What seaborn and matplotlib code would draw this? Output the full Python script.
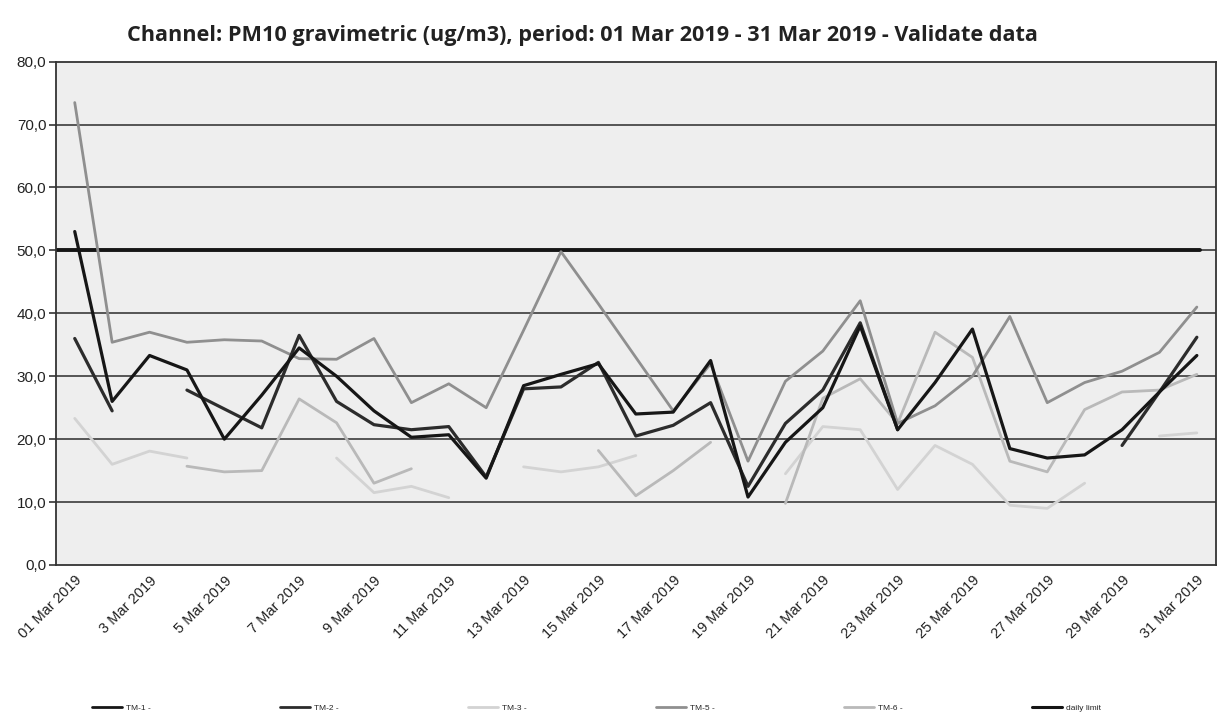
import numpy as np
import pandas as pd
import matplotlib
matplotlib.use("Agg")  # file output only
import matplotlib.pyplot as plt
from matplotlib.lines import Line2D
import seaborn as sns

nan = np.nan

# one value per day, 01..31 March 2019 (gaps = no valid data)
days = list(range(31))
tick_labels = ["01 Mar 2019", "3 Mar 2019", "5 Mar 2019", "7 Mar 2019", "9 Mar 2019",
               "11 Mar 2019", "13 Mar 2019", "15 Mar 2019", "17 Mar 2019", "19 Mar 2019",
               "21 Mar 2019", "23 Mar 2019", "25 Mar 2019", "27 Mar 2019", "29 Mar 2019",
               "31 Mar 2019"]

tm1 = [53.0, 26.0, 33.3, 31.0, 20.0, 27.0, 34.5, 30.0, 24.5, 20.3,
       20.7, 13.8, 28.5, 30.3, 32.0, 24.0, 24.3, 32.5, 10.8, 19.5,
       25.0, 38.0, 21.5, 29.0, 37.5, 18.5, 17.0, 17.5, 21.5, 27.5, 33.3]
tm2 = [36.0, 24.5, nan, 27.8, 24.8, 21.8, 36.5, 26.0, 22.3, 21.5,
       22.0, 14.0, 28.0, 28.3, 32.2, 20.5, 22.2, 25.8, 12.5, 22.5,
       27.8, 38.5, 21.5, nan, nan, nan, nan, nan, 19.0, 27.5, 36.2]
tm3 = [23.3, 16.0, 18.1, 17.0, nan, nan, nan, 17.0, 11.5, 12.5,
       10.7, nan, 15.6, 14.8, 15.6, 17.4, nan, nan, nan, 14.5,
       22.0, 21.5, 12.0, 19.0, 16.0, 9.5, 9.0, 13.0, nan, 20.5, 21.0]
tm5 = [73.5, 35.4, 37.0, 35.4, 35.8, 35.6, 32.8, 32.7, 36.0, 25.8,
       28.8, 25.0, 37.3, 49.8, 41.5, 33.0, 24.5, 32.0, 16.5, 29.2,
       34.0, 42.0, 22.5, 25.3, 30.0, 39.5, 25.8, 29.0, 30.8, 33.8, 41.0]
tm6 = [nan, nan, nan, 15.7, 14.8, 15.0, 26.4, 22.6, 13.0, 15.3,
       nan, nan, nan, nan, 18.2, 11.0, 15.0, 19.5, nan, 9.8,
       26.5, 29.6, 22.5, 37.0, 33.0, 16.5, 14.8, 24.7, 27.5, 27.8, 30.3]
daily_limit = 50.0

series = {"TM-1": tm1, "TM-2": tm2, "TM-3": tm3, "TM-5": tm5, "TM-6": tm6}
legend_labels = ["TM-1 -", "TM-2 -", "TM-3 -", "TM-5 -", "TM-6 -", "daily limit"]

colors = {"TM-1": "#161616", "TM-2": "#2c2c2c", "TM-3": "#d3d3d3",
          "TM-5": "#8f8f8f", "TM-6": "#b9b9b9"}
widths = {"TM-1": 2.3, "TM-2": 2.3, "TM-3": 2.0, "TM-5": 2.0, "TM-6": 2.0}
draw_order = ["TM-3", "TM-6", "TM-5", "TM-2", "TM-1"]
LIMIT_COLOR = "#151515"


def to_long(name, values):
    v = np.array(values, dtype=float)
    df = pd.DataFrame({"day": days, "value": v})
    df["seg"] = np.cumsum(np.isnan(v))  # break the line at missing days
    return df.dropna()


sns.set_theme(style="white")
plt.rcParams["font.family"] = ["Liberation Sans", "DejaVu Sans"]

fig = plt.figure(figsize=(12.18, 7.17), dpi=100)
ax = fig.add_axes([0.046, 0.212, 0.952, 0.702])
ax.set_facecolor("#eeeeee")

for y in range(10, 80, 10):
    ax.axhline(y, color="#3a3a3a", lw=1.2, zorder=1)

for name in draw_order:
    sns.lineplot(data=to_long(name, series[name]), x="day", y="value", units="seg",
                 estimator=None, color=colors[name], lw=widths[name], ax=ax, zorder=3)

ax.axhline(daily_limit, xmax=0.987, color=LIMIT_COLOR, lw=2.8, zorder=2)

ax.set_xlim(-0.5, 30.5)
ax.set_ylim(0, 80)
ax.set_xlabel("")
ax.set_ylabel("")

ax.set_yticks(range(0, 81, 10))
ax.set_yticklabels([f"{v},0" for v in range(0, 81, 10)])
ax.set_xticks(days[::2])
ax.set_xticklabels(tick_labels, rotation=45, ha="right", rotation_mode="anchor")
ax.set_xticks(np.arange(-0.5, 31, 1), minor=True)
ax.tick_params(axis="x", which="major", length=0, pad=6, labelsize=10.5, colors="#222222")
ax.tick_params(axis="x", which="minor", length=5, width=1.2, color="#333333", direction="out")
ax.tick_params(axis="y", length=5, width=1.2, color="#333333", labelsize=11, pad=2,
               labelcolor="#222222", left=True)

for side in ["left", "bottom", "top", "right"]:
    ax.spines[side].set_color("#333333")
    ax.spines[side].set_linewidth(1.3)

fig.text(0.478, 0.950,
         "Channel: PM10 gravimetric (ug/m3), period: 01 Mar 2019 - 31 Mar 2019 - Validate data",
         ha="center", va="center", fontsize=15.6, fontweight="bold",
         family=["Open Sans", "DejaVu Sans"], color="#222222")

handles = [Line2D([], [], color=colors[n], lw=2) for n in series]
handles.append(Line2D([], [], color=LIMIT_COLOR, lw=2.2))
fig.legend(handles, legend_labels, loc="lower center", bbox_to_anchor=(0.49, -0.004),
           ncol=6, frameon=False, fontsize=6, handlelength=3.6, handletextpad=0.5,
           columnspacing=15.5)

fig.savefig("out.png", dpi=100)
